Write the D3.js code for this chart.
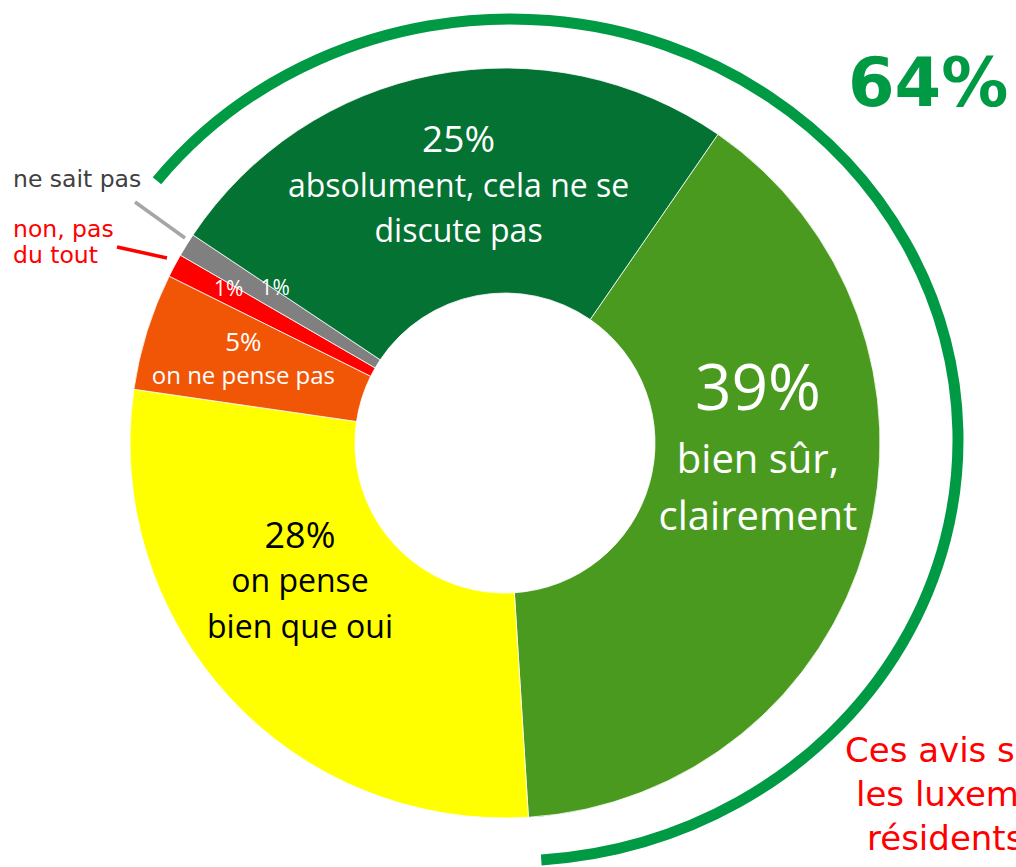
<!DOCTYPE html>
<html>
<head>
<meta charset="utf-8">
<script src="https://cdn.jsdelivr.net/npm/d3@7"></script>
<style>
	body { margin: 0; background: #fff; overflow: hidden; }
	svg { display: block; }
</style>
</head>
<body>
<script>
// answer categories, in drawing order (clockwise)
var categories = ["bien sûr, clairement", "on pense bien que oui", "on ne pense pas", "non, pas du tout", "ne sait pas", "absolument, cela ne se discute pas"];
var values = [39, 28, 5, 1, 1, 25];
var percentLabels = ["39%", "28%", "5%", "1%", "1%", "25%"];
var textLines = [["bien sûr,", "clairement"], ["on pense", "bien que oui"], ["on ne pense pas"], [], [], ["absolument, cela ne se", "discute pas"]];
var colors = ["#4a9a1f", "#ffff00", "#f15506", "#ff0000", "#808080", "#037233"];
var total = "64%";
var noteLines = ["Ces avis sont partagés par", "les luxembourgeois et les", "résidents étrangers"];

var width = 1016,
	height = 867,
	cx = 505,
	cy = 443,
	outerR = 375,
	innerR = 150;

var svg = d3.select("body")
	.append("svg")
	.attr("width", width)
	.attr("height", height);

var g = svg.append("g")
	.attr("transform", "translate(" + cx + "," + cy + ")");

// start of the first slice, degrees clockwise from 12 o'clock
var start = 34.6 * Math.PI / 180;

var pie = d3.pie()
	.sort(null)
	.value(function(d) { return d; })
	.startAngle(start)
	.endAngle(start + 2 * Math.PI);

var arc = d3.arc()
	.innerRadius(innerR)
	.outerRadius(outerR);

var arcs = pie(values);

g.selectAll("path.slice")
	.data(arcs)
	.enter().append("path")
	.attr("class", "slice")
	.attr("d", arc)
	.attr("fill", function(d, i) { return colors[i]; })
	.attr("stroke", "#fff")
	.attr("stroke-width", 0.8);

// label placement, relative to each slice centroid
var labelStyle = [
	{ dx: 0, pctDy: -103, pctSize: 64, txtSize: 40, lineDy: [-40, 17], fill: "#fff" },
	{ dx: -12, pctDy: -73, pctSize: 36, txtSize: 32, lineDy: [-29, 17], fill: "#000" },
	{ dx: -11, pctDy: -14, pctSize: 26, txtSize: 24, lineDy: [19], fill: "#fff" },
	{ dx: -45, pctDy: -23, pctSize: 21, txtSize: 21, lineDy: [], fill: "#fff" },
	{ dx: -7, pctDy: -9, pctSize: 21, txtSize: 21, lineDy: [], fill: "#fff" },
	{ dx: 3, pctDy: -33, pctSize: 37, txtSize: 32, lineDy: [12, 57], fill: "#fff" }
];

var labels = g.selectAll("g.label")
	.data(arcs)
	.enter().append("g")
	.attr("class", "label")
	.attr("transform", function(d, i) {
		var c = arc.centroid(d);
		return "translate(" + (c[0] + labelStyle[i].dx) + "," + c[1] + ")";
	});

labels.append("text")
	.attr("text-anchor", "middle")
	.attr("y", function(d, i) { return labelStyle[i].pctDy; })
	.style("font-family", "'Open Sans', sans-serif")
	.style("font-size", function(d, i) { return labelStyle[i].pctSize + "px"; })
	.attr("fill", function(d, i) { return labelStyle[i].fill; })
	.text(function(d, i) { return percentLabels[i]; });

labels.each(function(d, i) {
	d3.select(this).selectAll("text.line")
		.data(textLines[i])
		.enter().append("text")
		.attr("class", "line")
		.attr("text-anchor", "middle")
		.attr("y", function(t, j) { return labelStyle[i].lineDy[j]; })
		.style("font-family", "'Open Sans', sans-serif")
		.style("font-size", labelStyle[i].txtSize + "px")
		.attr("fill", labelStyle[i].fill)
		.text(function(t) { return t; });
});

// outside labels for the two thin slices, with leader lines
var outside = [
	{ idx: 4, lines: ["ne sait pas"], color: "#404040", lineColor: "#a6a6a6", x: 13, y: 187, from: [135, 202], to: [185, 238] },
	{ idx: 3, lines: ["non, pas", "du tout"], color: "#ff0000", lineColor: "#ff0000", x: 13, y: 237, from: [117, 247], to: [167, 258] }
];

outside.forEach(function(o) {
	svg.append("line")
		.attr("x1", o.from[0]).attr("y1", o.from[1])
		.attr("x2", o.to[0]).attr("y2", o.to[1])
		.attr("stroke", o.lineColor)
		.attr("stroke-width", 3.5);
	svg.append("g").selectAll("text")
		.data(o.lines)
		.enter().append("text")
		.attr("x", o.x)
		.attr("y", function(t, j) { return o.y + j * 26; })
		.style("font-family", "'DejaVu Sans', Verdana, sans-serif")
		.style("font-size", "23.5px")
		.attr("fill", o.color)
		.text(function(t) { return t; });
});

// elliptical bracket around the two "oui" slices
var rx = 448, ry = 421, ecx = 510, ecy = 440;
var a0 = -52 * Math.PI / 180,
	a1 = 176 * Math.PI / 180;
function ellPt(a) { return [ecx + rx * Math.sin(a), ecy - ry * Math.cos(a)]; }
var p0 = ellPt(a0), p1 = ellPt(a1);
svg.append("path")
	.attr("d", "M" + p0[0] + "," + p0[1] + " A" + rx + "," + ry + " 0 1 1 " + p1[0] + "," + p1[1])
	.attr("fill", "none")
	.attr("stroke", "#009a44")
	.attr("stroke-width", 11);

svg.append("text")
	.attr("x", 848)
	.attr("y", 106)
	.style("font-family", "'DejaVu Sans', Verdana, sans-serif")
	.style("font-weight", "bold")
	.style("font-size", "67px")
	.attr("fill", "#009a44")
	.text(total);

svg.append("g").selectAll("text")
	.data(noteLines)
	.enter().append("text")
	.attr("x", function(t, i) { return 845 + i * 11; })
	.attr("y", function(t, i) { return 762 + i * 44; })
	.style("font-family", "'DejaVu Sans', Verdana, sans-serif")
	.style("font-size", "34px")
	.attr("fill", "#ff0000")
	.text(function(t) { return t; });
</script>
</body>
</html>
